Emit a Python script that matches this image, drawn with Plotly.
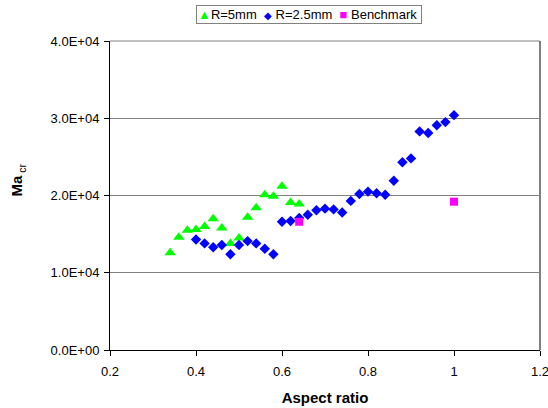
import plotly.graph_objects as go

# R=5mm series
x_r5 = [0.34, 0.36, 0.38, 0.40, 0.42, 0.44, 0.46, 0.48, 0.50, 0.52, 0.54, 0.56, 0.58, 0.60, 0.62, 0.64]
y_r5 = [12600, 14600, 15500, 15600, 16000, 17000, 15800, 13800, 14500, 17200, 18400, 20100, 19900, 21200, 19100, 18900]

# R=2.5mm series
x_r25 = [0.40, 0.42, 0.44, 0.46, 0.48, 0.50, 0.52, 0.54, 0.56, 0.58, 0.60, 0.62, 0.64, 0.66, 0.68, 0.70,
         0.72, 0.74, 0.76, 0.78, 0.80, 0.82, 0.84, 0.86, 0.88, 0.90, 0.92, 0.94, 0.96, 0.98, 1.00]
y_r25 = [14300, 13800, 13300, 13600, 12400, 13600, 14100, 13800, 13100, 12400, 16600, 16700, 17100, 17500, 18100, 18300,
         18200, 17800, 19300, 20200, 20500, 20300, 20100, 21900, 24300, 24800, 28300, 28100, 29100, 29500, 30400]

# Benchmark
x_bm = [0.64, 1.00]
y_bm = [16600, 19200]

y_ticks = [0, 10000, 20000, 30000, 40000]
y_labels = ["0.0E+00", "1.0E+04", "2.0E+04", "3.0E+04", "4.0E+04"]
x_ticks = [0.2, 0.4, 0.6, 0.8, 1.0, 1.2]
x_labels = ["0.2", "0.4", "0.6", "0.8", "1", "1.2"]

FONT = "Liberation Sans, Arial, sans-serif"
C_R5, C_R25, C_BM = "#00FF00", "#0000FF", "#FF00FF"

fig = go.Figure()
fig.add_trace(go.Scatter(x=x_r5, y=y_r5, mode="markers", name="R=5mm",
                         marker=dict(symbol="triangle-up", size=10, color=C_R5)))
fig.add_trace(go.Scatter(x=x_r25, y=y_r25, mode="markers", name="R=2.5mm",
                         marker=dict(symbol="diamond", size=8, color=C_R25)))
fig.add_trace(go.Scatter(x=x_bm, y=y_bm, mode="markers", name="Benchmark",
                         marker=dict(symbol="square", size=8, color=C_BM)))

legend_text = (f"<span style='color:{C_R5}'>▲</span>R=5mm&nbsp;&nbsp;"
               f"<span style='color:{C_R25};font-size:10px'>◆</span>&nbsp;R=2.5mm&nbsp;&nbsp;"
               f"<span style='color:{C_BM}'>■</span>&nbsp;Benchmark&nbsp;")

fig.update_layout(
    width=548, height=408,
    margin=dict(l=110, r=8, t=41, b=58),
    paper_bgcolor="white", plot_bgcolor="white",
    font=dict(family=FONT, size=13, color="black"),
    showlegend=False,
    xaxis=dict(range=[0.2, 1.2], tickvals=x_ticks, ticktext=x_labels, automargin=False,
               showgrid=False, zeroline=False, showline=True, linecolor="black", linewidth=1,
               ticks="outside", ticklen=5, tickcolor="black", ticklabelstandoff=4,
               ticklabeloverflow="allow",
               title=dict(text="<b>Aspect ratio</b>", font=dict(size=15), standoff=14)),
    yaxis=dict(range=[0, 40000], tickvals=y_ticks, ticktext=y_labels, automargin=False,
               showgrid=True, gridcolor="#808080", gridwidth=1, zeroline=False,
               showline=True, linecolor="black", linewidth=1,
               ticks="outside", ticklen=5, tickcolor="black", ticklabelstandoff=2),
    shapes=[
        dict(type="line", xref="paper", yref="paper", x0=1, x1=1, y0=0, y1=1,
             line=dict(color="#808080", width=2)),
        dict(type="line", xref="paper", yref="paper", x0=0, x1=1, y0=1, y1=1,
             line=dict(color="#808080", width=1)),
    ],
    annotations=[
        dict(text="<b>Ma</b><sub> cr</sub>", xref="paper", yref="paper",
             x=-0.215, y=0.55, textangle=-90, showarrow=False,
             font=dict(size=15), xanchor="center", yanchor="middle"),
        dict(text=legend_text, xref="paper", yref="paper",
             x=0.463, y=1.117, xanchor="center", yanchor="top", showarrow=False,
             font=dict(size=13), bordercolor="#808080", borderwidth=1, borderpad=1,
             bgcolor="white"),
    ],
)

fig.write_html("out.html")
